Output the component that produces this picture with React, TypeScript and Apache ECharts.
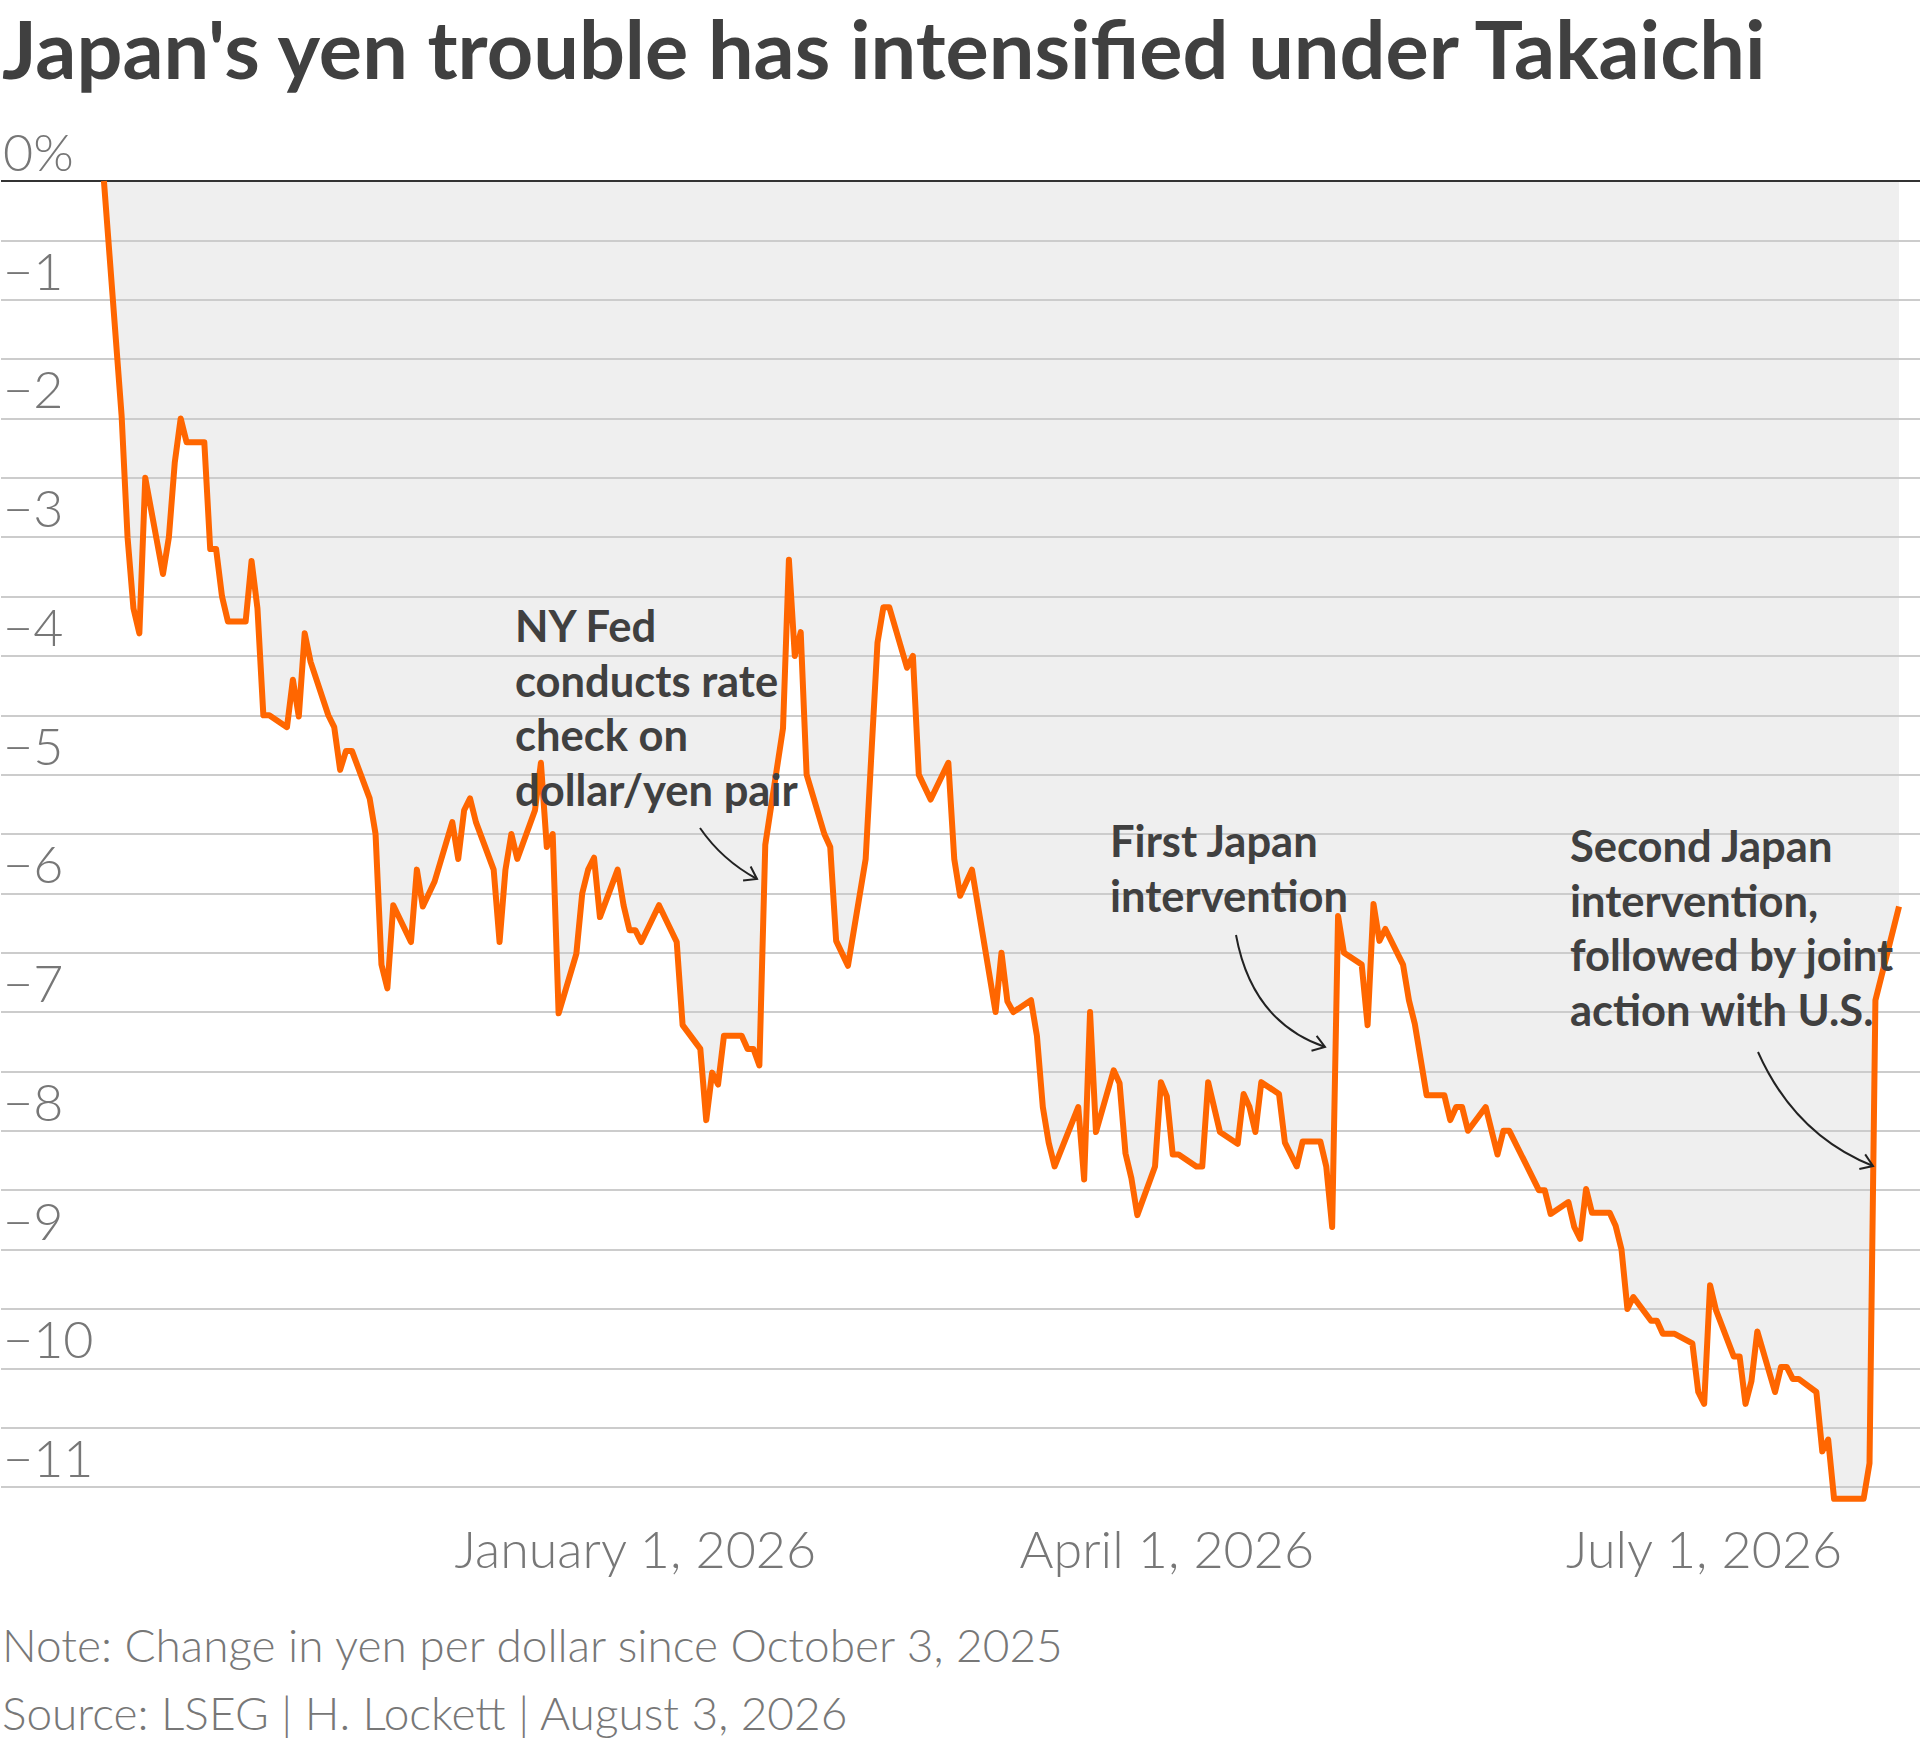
import { useEffect, useRef } from "react";
import * as echarts from "echarts";

// daily closes (vertices), change in yen per dollar since Oct 3, 2025
const dates = [
  "2025-10-03", "2025-10-06", "2025-10-07", "2025-10-08", "2025-10-09", "2025-10-10",
  "2025-10-13", "2025-10-14", "2025-10-15", "2025-10-16", "2025-10-17",
  "2025-10-20", "2025-10-21", "2025-10-22", "2025-10-23", "2025-10-24",
  "2025-10-27", "2025-10-28", "2025-10-29", "2025-10-30", "2025-10-31",
  "2025-11-03", "2025-11-04", "2025-11-05", "2025-11-06", "2025-11-07",
  "2025-11-10", "2025-11-11", "2025-11-12", "2025-11-13", "2025-11-14",
  "2025-11-17", "2025-11-18", "2025-11-19", "2025-11-20", "2025-11-21",
  "2025-11-24", "2025-11-25", "2025-11-26", "2025-11-28",
  "2025-12-01", "2025-12-02", "2025-12-03", "2025-12-04", "2025-12-05",
  "2025-12-08", "2025-12-09", "2025-12-10", "2025-12-11", "2025-12-12",
  "2025-12-15", "2025-12-16", "2025-12-17", "2025-12-18", "2025-12-19",
  "2025-12-22", "2025-12-23", "2025-12-24", "2025-12-25", "2025-12-26",
  "2025-12-29", "2025-12-30", "2025-12-31", "2026-01-01", "2026-01-02",
  "2026-01-05", "2026-01-08", "2026-01-09",
  "2026-01-12", "2026-01-13", "2026-01-14", "2026-01-15", "2026-01-16",
  "2026-01-19", "2026-01-20", "2026-01-21", "2026-01-22", "2026-01-23",
  "2026-01-26", "2026-01-27", "2026-01-28", "2026-01-29", "2026-01-30",
  "2026-02-02", "2026-02-03", "2026-02-04", "2026-02-06",
  "2026-02-09", "2026-02-11", "2026-02-12", "2026-02-13",
  "2026-02-16", "2026-02-17", "2026-02-18", "2026-02-20",
  "2026-02-23", "2026-02-24", "2026-02-25", "2026-02-27",
  "2026-03-03", "2026-03-04", "2026-03-05", "2026-03-06",
  "2026-03-09", "2026-03-10", "2026-03-11", "2026-03-12", "2026-03-13",
  "2026-03-17", "2026-03-18", "2026-03-19", "2026-03-20",
  "2026-03-23", "2026-03-24", "2026-03-25", "2026-03-26", "2026-03-27",
  "2026-03-30", "2026-03-31", "2026-04-01", "2026-04-02", "2026-04-03",
  "2026-04-06", "2026-04-07", "2026-04-08", "2026-04-10",
  "2026-04-13", "2026-04-14", "2026-04-15", "2026-04-16", "2026-04-17",
  "2026-04-20", "2026-04-21", "2026-04-23", "2026-04-24",
  "2026-04-27", "2026-04-28", "2026-04-29", "2026-04-30", "2026-05-01",
  "2026-05-04", "2026-05-05", "2026-05-06", "2026-05-07", "2026-05-08",
  "2026-05-11", "2026-05-12", "2026-05-13", "2026-05-15",
  "2026-05-18", "2026-05-19", "2026-05-20", "2026-05-21", "2026-05-22",
  "2026-05-25", "2026-05-27", "2026-05-28", "2026-05-29",
  "2026-06-03", "2026-06-04", "2026-06-05",
  "2026-06-08", "2026-06-09", "2026-06-10", "2026-06-11", "2026-06-12",
  "2026-06-15", "2026-06-16", "2026-06-17", "2026-06-18", "2026-06-19",
  "2026-06-22", "2026-06-23", "2026-06-24", "2026-06-26",
  "2026-06-29", "2026-06-30", "2026-07-01", "2026-07-02", "2026-07-03",
  "2026-07-06", "2026-07-07", "2026-07-08", "2026-07-09", "2026-07-10",
  "2026-07-13", "2026-07-14", "2026-07-15", "2026-07-16", "2026-07-17",
  "2026-07-20", "2026-07-21", "2026-07-22", "2026-07-23", "2026-07-24",
  "2026-07-27", "2026-07-28", "2026-07-29", "2026-07-30", "2026-08-03",
];

const values = [
  0, -1.98, -3.0, -3.6, -3.81, -2.5,
  -3.31, -3.0, -2.37, -2.0, -2.2,
  -2.2, -3.1, -3.1, -3.5, -3.71,
  -3.71, -3.2, -3.6, -4.5, -4.5,
  -4.6, -4.2, -4.51, -3.81, -4.05,
  -4.5, -4.6, -4.96, -4.8, -4.8,
  -5.2, -5.5, -6.6, -6.8, -6.1,
  -6.41, -5.8, -6.11, -5.9,
  -5.4, -5.71, -5.3, -5.2, -5.4,
  -5.8, -6.41, -5.8, -5.5, -5.71,
  -5.3, -4.9, -5.61, -5.5, -7.01,
  -6.51, -6.0, -5.8, -5.7, -6.2,
  -5.8, -6.1, -6.31, -6.31, -6.41,
  -6.1, -6.41, -7.11,
  -7.31, -7.91, -7.51, -7.61, -7.2,
  -7.2, -7.31, -7.31, -7.45, -5.59,
  -4.61, -3.19, -4.0, -3.8, -5.0,
  -5.5, -5.61, -6.4, -6.61,
  -5.71, -3.89, -3.59, -3.59,
  -4.1, -4.0, -5.0, -5.21,
  -4.9, -5.71, -6.02, -5.8,
  -7.0, -6.5, -6.91, -7.0,
  -6.9, -7.2, -7.8, -8.1, -8.3,
  -7.8, -8.41, -7.0, -8.01,
  -7.49, -7.6, -8.19, -8.4, -8.71,
  -8.3, -7.59, -7.71, -8.2, -8.2,
  -8.3, -8.3, -7.59, -8.01,
  -8.11, -7.69, -7.8, -8.01, -7.59,
  -7.69, -8.1, -8.3, -8.09,
  -8.09, -8.3, -8.81, -6.19, -6.5,
  -6.6, -7.11, -6.09, -6.4, -6.3,
  -6.6, -6.9, -7.1, -7.7,
  -7.7, -7.91, -7.8, -7.8, -8.0,
  -7.8, -8.2, -8.0, -8.0,
  -8.5, -8.5, -8.7,
  -8.6, -8.81, -8.91, -8.49, -8.69,
  -8.69, -8.8, -9.0, -9.5, -9.4,
  -9.6, -9.6, -9.71, -9.71,
  -9.79, -10.2, -10.3, -9.3, -9.51,
  -9.9, -9.9, -10.3, -10.11, -9.69,
  -10.2, -9.99, -9.99, -10.09, -10.09,
  -10.2, -10.7, -10.6, -11.1, -11.1,
  -11.1, -11.1, -10.8, -6.9, -6.11,
];

const xTickDates = ["2026-01-01", "2026-04-01", "2026-07-01"];
const xTickLabels = ["January 1, 2026", "April 1, 2026", "July 1, 2026"];

const TITLE = "Japan's yen trouble has intensified under Takaichi";
const NOTE = "Note: Change in yen per dollar since October 3, 2025";
const SOURCE = "Source: LSEG | H. Lockett | August 3, 2026";

const annotations = [
  {
    lines: ["NY Fed", "conducts rate", "check on", "dollar/yen pair"],
    x: 515,
    y: 642,
    arrow: [700, 828, 722, 860, 757, 879],
  },
  {
    lines: ["First Japan", "intervention"],
    x: 1110,
    y: 857,
    arrow: [1236, 935, 1252, 1022, 1325, 1047],
  },
  {
    lines: ["Second Japan", "intervention,", "followed by joint", "action with U.S."],
    x: 1570,
    y: 862,
    arrow: [1758, 1052, 1795, 1135, 1873, 1166],
  },
];

const DAY = 86400000;
const ts = (s: string) => new Date(s + "T00:00:00Z").getTime();

const ORANGE = "#ff6600";
const DARK = "#404040";
const GREY = "#777777";
const LINE_H = 54.5;
const ANN_SIZE = 43.5;
const TITLE_SIZE = 81;

export default function App() {
  const chartRef = useRef<HTMLDivElement>(null);

  useEffect(() => {
    if (!chartRef.current) return;
    const chart = echarts.init(chartRef.current, null, { renderer: "svg" });

    const data = dates.map((d, i) => [ts(d), values[i]]);
    const tickTimes = xTickDates.map(ts);

    const graphics: any[] = [
      {
        type: "text",
        x: 2,
        y: 78 - 0.38 * TITLE_SIZE,
        style: {
          text: TITLE,
          font: `bold ${TITLE_SIZE}px Lato`,
          fill: DARK,
          verticalAlign: "middle",
        },
      },
      {
        type: "text",
        x: 2,
        y: 1662 - 0.38 * 46,
        style: { text: NOTE, font: "300 46px Lato", fill: GREY, verticalAlign: "middle" },
      },
      {
        type: "text",
        x: 2,
        y: 1730 - 0.38 * 46,
        style: { text: SOURCE, font: "300 46px Lato", fill: GREY, verticalAlign: "middle" },
      },
    ];

    annotations.forEach((a) => {
      a.lines.forEach((line, i) => {
        graphics.push({
          type: "text",
          x: a.x,
          y: a.y + i * LINE_H - 0.38 * ANN_SIZE,
          z: 10,
          style: {
            text: line,
            font: `bold ${ANN_SIZE}px Lato`,
            fill: DARK,
            verticalAlign: "middle",
          },
        });
      });
      const [x1, y1, cx, cy, x2, y2] = a.arrow;
      graphics.push({
        type: "bezierCurve",
        z: 10,
        shape: { x1, y1, x2, y2, cpx1: cx, cpy1: cy },
        style: { stroke: "#222", lineWidth: 2, fill: "none" },
      });
      const ang = Math.atan2(y2 - cy, x2 - cx) + Math.PI;
      const len = 14;
      const w1 = ang - 0.6;
      const w2 = ang + 0.6;
      graphics.push({
        type: "polyline",
        z: 10,
        shape: {
          points: [
            [x2 + len * Math.cos(w1), y2 + len * Math.sin(w1)],
            [x2, y2],
            [x2 + len * Math.cos(w2), y2 + len * Math.sin(w2)],
          ],
        },
        style: { stroke: "#222", lineWidth: 2, fill: "none" },
      });
    });

    const option = {
      animation: false,
      backgroundColor: "#ffffff",
      grid: { left: 0, right: 0, top: 181, height: 1306 },
      xAxis: {
        type: "value",
        min: ts("2025-10-03") - 17.43 * DAY,
        max: ts("2026-08-03") + 3.55 * DAY,
        axisLine: { show: false },
        axisTick: { show: false },
        splitLine: { show: false },
        axisLabel: {
          customValues: tickTimes,
          formatter: (v: number) => {
            const i = tickTimes.findIndex((t) => Math.abs(t - v) < DAY / 2);
            return i >= 0 ? xTickLabels[i] : "";
          },
          fontFamily: "Lato",
          fontWeight: 300,
          fontSize: 52,
          color: GREY,
          margin: 35,
          hideOverlap: false,
        },
      },
      yAxis: {
        type: "value",
        min: -11,
        max: 0,
        interval: 0.5,
        z: 3,
        axisLine: { show: false },
        axisTick: { show: false },
        splitLine: { show: true, lineStyle: { color: "#cccccc", width: 2 } },
        axisLabel: {
          inside: true,
          margin: 2,
          align: "left",
          verticalAlign: "bottom",
          padding: [0, 0, 4, 0],
          fontFamily: "Lato",
          fontWeight: 300,
          fontSize: 52,
          color: GREY,
          formatter: (v: number) => {
            if (Math.abs(v % 1) > 1e-6) return "";
            if (v === 0) return "0%";
            return "\u2212" + Math.abs(v);
          },
        },
      },
      series: [
        {
          name: "fill",
          type: "line",
          data,
          symbol: "none",
          silent: true,
          clip: false,
          z: 1,
          lineStyle: { opacity: 0 },
          areaStyle: { color: "#efefef", opacity: 1, origin: "end" },
        },
        {
          name: "yen",
          type: "line",
          data,
          symbol: "none",
          clip: false,
          z: 5,
          lineStyle: { color: ORANGE, width: 6, join: "round" },
          markLine: {
            silent: true,
            symbol: "none",
            label: { show: false },
            lineStyle: { color: "#333333", width: 2, type: "solid" },
            data: [{ yAxis: 0 }],
          },
        },
      ],
      graphic: graphics,
    };

    chart.setOption(option);
    return () => chart.dispose();
  }, []);

  return (
    <div
      ref={chartRef}
      style={{
        position: "absolute",
        left: 0,
        top: 0,
        width: 1920,
        height: 1747,
        background: "#ffffff",
      }}
    />
  );
}
